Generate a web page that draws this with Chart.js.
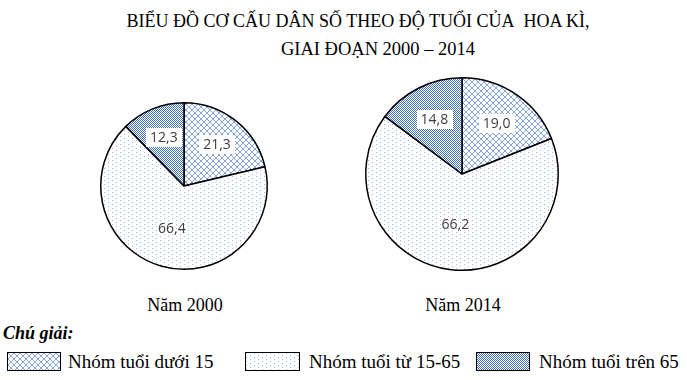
<!DOCTYPE html>
<html>
<head>
<meta charset="utf-8">
<script src="https://cdn.jsdelivr.net/npm/chart.js@4/dist/chart.umd.min.js"></script>
<style>
  html, body { margin:0; padding:0; background:#fff; }
  body { width:687px; height:380px; position:relative; overflow:hidden; }
  .t { position:absolute; white-space:nowrap; font-family:"Liberation Serif","Times New Roman",serif; color:#000; line-height:1; }
  .c { transform:translateX(-50%); }
  canvas.pie { position:absolute; }
  .box { position:absolute; border:1px solid #000; box-sizing:border-box; }
</style>
</head>
<body>
<div id="title1" class="t c" style="left:358px;top:12px;font-size:18px;">BIỂU ĐỒ CƠ CẤU DÂN SỐ THEO ĐỘ TUỔI CỦA&nbsp; HOA KÌ,</div>
<div id="title2" class="t c" style="left:378px;top:40px;font-size:18.5px;">GIAI ĐOẠN 2000 – 2014</div>

<canvas id="pie1" class="pie" width="200" height="200" style="left:84px;top:86px;width:200px;height:200px;"></canvas>
<canvas id="pie2" class="pie" width="220" height="220" style="left:352px;top:64px;width:220px;height:220px;"></canvas>

<div id="yr1" class="t c" style="left:185px;top:296px;font-size:18px;"></div>
<div id="yr2" class="t c" style="left:463px;top:296px;font-size:18px;"></div>

<div class="t" style="left:3px;top:324px;font-size:18px;font-weight:bold;font-style:italic;">Chú giải:</div>
<div id="legend"></div>

<script>
// ---- data ----
const categories = ['Nhóm tuổi dưới 15', 'Nhóm tuổi từ 15-65', 'Nhóm tuổi trên 65'];
const years = ['Năm 2000', 'Năm 2014'];
const values2000 = [21.3, 66.4, 12.3];
const values2014 = [19.0, 66.2, 14.8];

// ---- patterns ----
function makeTile(w, h, draw) {
  const c = document.createElement('canvas');
  c.width = w; c.height = h;
  const x = c.getContext('2d');
  x.fillStyle = '#fff'; x.fillRect(0, 0, w, h);
  draw(x);
  return c;
}
const tileCross = makeTile(6, 6, x => {
  x.fillStyle = '#86a6dc';
  for (let i = 0; i < 6; i++) { x.fillRect(i, i, 1, 1); x.fillRect(5 - i, i, 1, 1); }
});
const tileDots = makeTile(8, 4, x => {
  x.fillStyle = '#a3b8e0';
  x.fillRect(0, 0, 1, 1); x.fillRect(4, 2, 1, 1);
});
const tileCheck = makeTile(2, 2, x => {
  x.fillStyle = '#4272c8';
  x.fillRect(0, 0, 1, 1); x.fillRect(1, 1, 1, 1);
});
const tiles = [tileCross, tileDots, tileCheck];

// ---- data label plugin ----
const labelPlugin = {
  id: 'sliceLabels',
  afterDatasetsDraw(chart) {
    const ctx = chart.ctx;
    const meta = chart.getDatasetMeta(0);
    const data = chart.data.datasets[0].data;
    const maxV = Math.max(...data);
    ctx.save();
    ctx.font = '14px "Open Sans", sans-serif';
    ctx.textAlign = 'center';
    ctx.textBaseline = 'middle';
    meta.data.forEach((arc, i) => {
      const p = arc.getProps(['x', 'y', 'startAngle', 'endAngle', 'outerRadius']);
      const mid = (p.startAngle + p.endAngle) / 2;
      const f = data[i] === maxV ? 0.52 : 0.64;
      const lx = p.x + Math.cos(mid) * p.outerRadius * f;
      const ly = p.y + Math.sin(mid) * p.outerRadius * f;
      const txt = data[i].toFixed(1).replace('.', ',');
      const w = ctx.measureText(txt).width;
      if (data[i] !== maxV) {
        ctx.fillStyle = '#fff';
        ctx.fillRect(Math.round(lx - w / 2 - 4), Math.round(ly - 9), Math.round(w + 8), 19);
      }
      ctx.fillStyle = '#404040';
      ctx.fillText(txt, lx, ly + 1);
    });
    ctx.restore();
  }
};

function makePie(id, values, radius) {
  const el = document.getElementById(id);
  const ctx = el.getContext('2d');
  const pats = tiles.map(t => ctx.createPattern(t, 'repeat'));
  const pad = el.width / 2 - radius;
  return new Chart(el, {
    type: 'pie',
    data: {
      labels: categories,
      datasets: [{
        data: values,
        backgroundColor: pats,
        borderColor: '#000',
        borderWidth: 1.5,
        hoverOffset: 0,
        offset: 0
      }]
    },
    options: {
      responsive: false,
      animation: false,
      events: [],
      layout: { padding: pad },
      plugins: { legend: { display: false }, tooltip: { enabled: false }, title: { display: false } }
    },
    plugins: [labelPlugin]
  });
}
makePie('pie1', values2000, 84);
makePie('pie2', values2014, 97);

document.getElementById('yr1').textContent = years[0];
document.getElementById('yr2').textContent = years[1];

// ---- legend ----
const legendBoxes = [[7, 54], [245, 55], [476, 54]];
const legendText = [68, 309, 539];
const lg = document.getElementById('legend');
categories.forEach((name, i) => {
  const b = document.createElement('div');
  b.className = 'box';
  b.style.left = legendBoxes[i][0] + 'px';
  b.style.top = '352px';
  b.style.width = legendBoxes[i][1] + 'px';
  b.style.height = '19px';
  b.style.backgroundImage = 'url(' + tiles[i].toDataURL() + ')';
  lg.appendChild(b);
  const t = document.createElement('div');
  t.className = 't';
  t.style.left = legendText[i] + 'px';
  t.style.top = '352px';
  t.style.fontSize = '19px';
  t.textContent = name;
  lg.appendChild(t);
});
</script>
</body>
</html>
